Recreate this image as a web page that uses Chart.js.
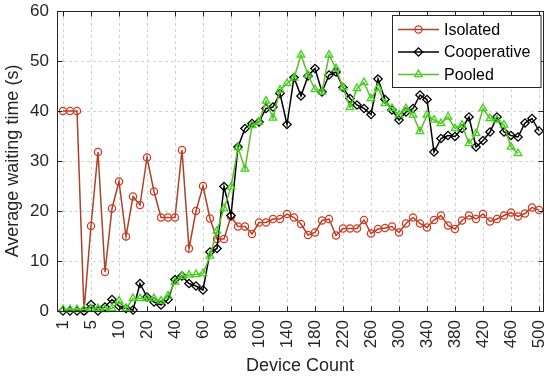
<!DOCTYPE html>
<html><head><meta charset="utf-8">
<script src="https://cdn.jsdelivr.net/npm/chart.js@4.4.1/dist/chart.umd.min.js"></script>
<style>html,body{margin:0;padding:0;background:#fff;}canvas{display:block;}</style>
</head><body>
<canvas id="c" width="550" height="377"></canvas>
<script>
// x tick labels (device counts) and the point index they sit at
const tickLabels = ['1','5','10','20','40','60','80','100','140','180','220','260','300','340','380','420','460','500'];
const tickIndex  = [0,4,8,12,16,20,24,28,32,36,40,44,48,52,56,60,64,68];
const yTicks = [0,10,20,30,40,50,60];
const seriesNames = ['Isolated','Cooperative','Pooled'];

const isolated = [40,40,40,0,17,31.8,7.8,20.5,25.9,14.9,22.9,21.2,30.7,23.9,18.7,18.7,18.7,32.2,12.5,20,
  25,18.5,14.4,14.4,18.9,16.9,16.9,15.4,17.7,17.7,18.4,18.4,19.4,18.7,17.4,15.2,15.7,18.1,18.4,15.1,
  16.5,16.5,16.5,18.2,15.5,16.4,16.6,16.9,15.7,17.5,18.7,17.5,16.7,18.2,19.1,17.1,16.4,18.1,19.1,18.4,
  19.4,17.9,18.4,19.1,19.7,18.9,19.5,20.7,20.2];
const cooperative = [0,0,0,0,1.3,0,0.8,2.3,1.0,0.5,0.2,5.5,2.8,1.8,1.2,2.3,6.3,7.0,5.5,5.0,
  4.2,11.8,12.5,24.9,19.1,32.8,36.5,37.5,37.8,40.5,40.8,43.5,37.3,46.7,43,47,48.5,43.8,47.2,47.8,
  44.7,42.5,41.2,40.5,39.3,46.4,42.3,40.2,38.2,39.8,40.5,43.2,42.3,31.8,34.5,35.1,34.9,36.5,38.8,32.8,
  34.1,35.8,38.8,35.8,35.1,34.8,37.6,38.5,36.0];
const pooled = [0.3,0.3,0.3,0.3,0.5,0.5,0.3,0.5,2.0,0.5,2.5,2.5,2.5,2.5,2.0,3.0,5.8,7.0,7.2,7.3,
  7.5,11,16,20.5,24.8,32.7,28.4,37.1,37.8,42.0,38.6,44.2,45.5,46.6,51.2,47.2,44.3,43.8,51.2,48.5,
  44.7,40.7,44.5,45.7,42.5,44.6,41.5,40.5,39.2,40.5,39.2,35.9,39.2,38.2,37.5,38.8,36.5,37.2,33.5,35.5,
  40.5,38.5,38.2,37.2,32.8,31.5];

const FONT = '"Liberation Sans", Arial, Helvetica, sans-serif';
const AX = '#262626';

const styles = [
  {line:'#a8442a', mark:'#d63a22', shape:'circle', r:3.6},
  {line:'#000000', mark:'#000000', shape:'rectRot', r:4.2},
  {line:'#5cbf2a', mark:'#3fd41a', shape:'triangle', r:4.4}
];
const seriesData = [isolated, cooperative, pooled];

function toPoints(arr){ return arr.map((v,i)=>({x:i,y:v})); }

const framePlugin = {
  id:'frame',
  beforeDatasetsDraw(chart){
    const {ctx, chartArea:a, scales:{x,y}} = chart;
    ctx.save();
    ctx.strokeStyle = '#d2d2d2'; ctx.lineWidth = 1; ctx.setLineDash([3,3]);
    tickIndex.forEach(v=>{
      const px = Math.round(x.getPixelForValue(v))+0.5;
      ctx.beginPath(); ctx.moveTo(px,a.top); ctx.lineTo(px,a.bottom); ctx.stroke();
    });
    yTicks.forEach(v=>{
      const py = Math.round(y.getPixelForValue(v))+0.5;
      ctx.beginPath(); ctx.moveTo(a.left,py); ctx.lineTo(a.right,py); ctx.stroke();
    });
    ctx.restore();
  },
  afterDatasetsDraw(chart){
    const {ctx, chartArea:a, scales:{x,y}} = chart;
    ctx.save();
    ctx.strokeStyle = AX; ctx.lineWidth = 1; ctx.setLineDash([]);
    const L = Math.round(a.left)+0.5, R = Math.round(a.right)+0.5, T = Math.round(a.top)+0.5, B = Math.round(a.bottom)+0.5;
    ctx.strokeRect(L, T, R-L, B-T);
    const tl = 5;
    ctx.beginPath();
    tickIndex.forEach(v=>{
      const px = Math.round(x.getPixelForValue(v))+0.5;
      ctx.moveTo(px,B); ctx.lineTo(px,B-tl);
      ctx.moveTo(px,T); ctx.lineTo(px,T+tl);
    });
    yTicks.forEach(v=>{
      const py = Math.round(y.getPixelForValue(v))+0.5;
      ctx.moveTo(L,py); ctx.lineTo(L+tl,py);
      ctx.moveTo(R,py); ctx.lineTo(R-tl,py);
    });
    ctx.stroke();
    ctx.restore();
  },
  afterDraw(chart){
    const ctx = chart.ctx;
    ctx.save();
    const bx = 392.5, by = 15.5, bw = 148.5, bh = 72;
    ctx.fillStyle = '#ffffff'; ctx.fillRect(bx,by,bw,bh);
    ctx.strokeStyle = AX; ctx.lineWidth = 1; ctx.strokeRect(bx,by,bw,bh);
    const rows = [29.5, 52, 74.5];
    seriesNames.forEach((name,k)=>{
      const st = styles[k], yy = rows[k];
      ctx.strokeStyle = st.line; ctx.lineWidth = 1.5;
      ctx.beginPath(); ctx.moveTo(398,yy); ctx.lineTo(439,yy); ctx.stroke();
      ctx.strokeStyle = st.mark; ctx.fillStyle = 'rgba(0,0,0,0)'; ctx.lineWidth = 1.3;
      Chart.helpers.drawPoint(ctx, {pointStyle:st.shape, radius:st.r, borderWidth:1.3, rotation:0}, 418.5, yy);
      ctx.fillStyle = '#000'; ctx.font = '16px ' + FONT; ctx.textBaseline = 'middle'; ctx.textAlign = 'left';
      ctx.fillText(name, 444, yy+1);
    });
    ctx.restore();
  }
};

const datasets = seriesNames.map((name,k)=>({
  label:name,
  data:toPoints(seriesData[k]),
  borderColor:styles[k].line,
  borderWidth:1.5,
  pointStyle:styles[k].shape,
  pointRadius:styles[k].r,
  pointHoverRadius:styles[k].r,
  pointBorderColor:styles[k].mark,
  pointBackgroundColor:'rgba(0,0,0,0)',
  pointBorderWidth:1.3,
  tension:0,
  clip:false,
  order:3-k
}));

new Chart(document.getElementById('c'), {
  type:'line',
  data:{datasets},
  options:{
    responsive:false, animation:false, devicePixelRatio:1, events:[],
    layout:{padding:{left:0,right:7,top:11,bottom:0}},
    plugins:{legend:{display:false}, tooltip:{enabled:false}},
    scales:{
      x:{
        type:'linear', min:-0.857, max:68.571,
        afterBuildTicks:s=>{ s.ticks = tickIndex.map(v=>({value:v})); },
        afterFit:s=>{ s.height = 66; s.paddingLeft = 0; s.paddingRight = 0; },
        ticks:{autoSkip:false, minRotation:90, maxRotation:90, padding:9, color:AX,
          font:{family:FONT, size:17},
          callback:(v)=>{ const k = tickIndex.indexOf(v); return k>=0 ? tickLabels[k] : ''; }},
        grid:{display:false, drawTicks:false}, border:{display:false},
        title:{display:true, text:'Device Count', color:AX, font:{family:FONT, size:18}, padding:{top:0,bottom:0}}
      },
      y:{
        min:0, max:60,
        afterBuildTicks:s=>{ s.ticks = yTicks.map(v=>({value:v})); },
        afterFit:s=>{ s.width = 57; s.paddingTop = 0; s.paddingBottom = 0; },
        ticks:{padding:8, color:AX, font:{family:FONT, size:17}},
        grid:{display:false, drawTicks:false}, border:{display:false},
        title:{display:true, text:'Average waiting time (s)', color:AX, font:{family:FONT, size:18}, padding:{top:2,bottom:0}}
      }
    }
  },
  plugins:[framePlugin]
});
</script>
</body></html>
